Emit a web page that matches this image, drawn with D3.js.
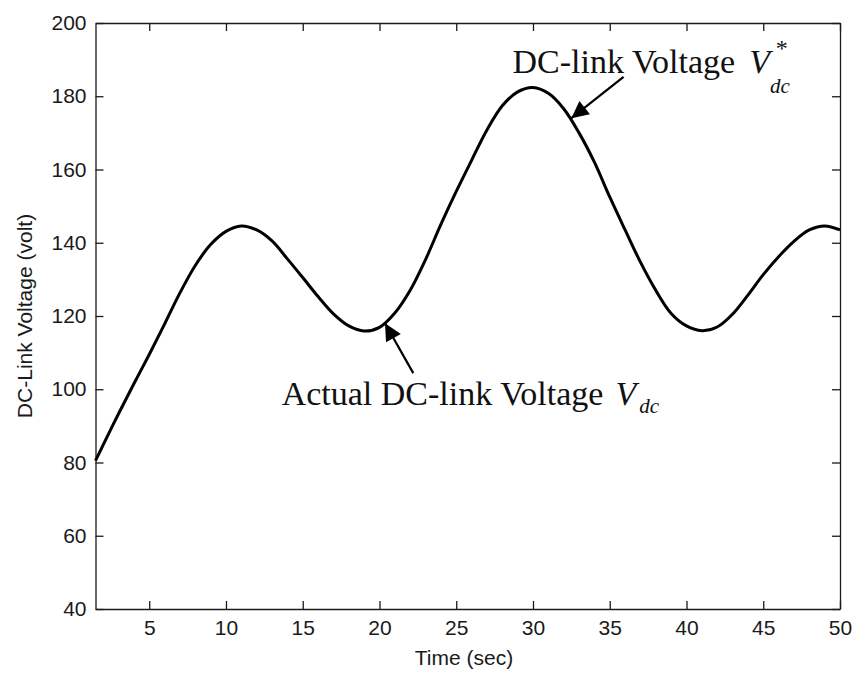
<!DOCTYPE html>
<html>
<head>
    <meta charset="utf-8">
    <title>DC-Link Voltage</title>
    <script src="https://d3js.org/d3.v7.min.js"></script>
    <style>
        body {
            margin: 0;
            padding: 0;
            background-color: #ffffff;
        }
        .axis text {
            font-family: "Liberation Sans", Arial, sans-serif;
            font-size: 21px;
            fill: #1a1a1a;
        }
        .axis path, .axis line {
            stroke: #1a1a1a;
            stroke-width: 1.3;
        }
        .label {
            font-family: "Liberation Sans", Arial, sans-serif;
            font-size: 21px;
            fill: #1a1a1a;
        }
        .note {
            font-family: "Liberation Serif", "Times New Roman", serif;
            font-size: 34px;
            fill: #111;
        }
    </style>
</head>
<body>
    <div id="chart"></div>

    <script>
        const timeSec = [1.5, 2, 3, 4, 5, 6, 7, 8, 9, 10, 11, 12, 13, 14, 15, 16, 17, 18, 19, 20,
                         21, 22, 23, 24, 25, 26, 27, 28, 29, 30, 31, 32, 33, 34, 35, 36, 37, 38, 39, 40,
                         41, 42, 43, 44, 45, 46, 47, 48, 49, 50];
        const voltage = [80.5, 84.8, 93.3, 101.5, 109.5, 117.8, 126.3, 133.8, 139.5, 143.1, 144.6, 143.5, 140.5, 135.6, 130.5, 125.3, 120.6, 117.3, 115.9, 116.9,
                         120.8, 127, 135.4, 145, 154, 162.5, 170.8, 177.4, 181.2, 182.4, 180.8, 176.6, 170, 162, 152.5, 143.5, 134.7, 127, 120.7, 117.3,
                         116, 117, 120.5, 125.7, 131.3, 136.2, 140.4, 143.5, 144.6, 143.5];

        const xTicks = [5, 10, 15, 20, 25, 30, 35, 40, 45, 50];
        const yTicks = [40, 60, 80, 100, 120, 140, 160, 180, 200];

        const data = timeSec.map((t, i) => ({ t: t, v: voltage[i] }));

        const W = 853, H = 675;
        const margin = { top: 23, right: 13, bottom: 66, left: 95.5 };
        const width = W - margin.left - margin.right;
        const height = H - margin.top - margin.bottom;

        const svg = d3.select("#chart")
            .append("svg")
            .attr("width", W)
            .attr("height", H);

        const g = svg.append("g")
            .attr("transform", `translate(${margin.left},${margin.top})`);

        const x = d3.scaleLinear().domain([1.5, 50]).range([0, width]);
        const y = d3.scaleLinear().domain([40, 200]).range([height, 0]);

        // axes, ticks pointing inwards on all four sides
        g.append("g")
            .attr("class", "axis")
            .attr("transform", `translate(0,${height})`)
            .call(d3.axisBottom(x).tickValues(xTicks).tickSizeInner(-8).tickSizeOuter(0).tickPadding(11));
        g.append("g")
            .attr("class", "axis")
            .call(d3.axisTop(x).tickValues(xTicks).tickSizeInner(-8).tickSizeOuter(0).tickFormat(""));
        g.append("g")
            .attr("class", "axis")
            .call(d3.axisLeft(y).tickValues(yTicks).tickSizeInner(-8).tickSizeOuter(0).tickPadding(9));
        g.append("g")
            .attr("class", "axis")
            .attr("transform", `translate(${width},0)`)
            .call(d3.axisRight(y).tickValues(yTicks).tickSizeInner(-8).tickSizeOuter(0).tickFormat(""));

        // the curve
        const line = d3.line()
            .x(d => x(d.t))
            .y(d => y(d.v))
            .curve(d3.curveCatmullRom);

        g.append("path")
            .datum(data)
            .attr("fill", "none")
            .attr("stroke", "#000")
            .attr("stroke-width", 3)
            .attr("stroke-linejoin", "round")
            .attr("d", line);

        // axis labels
        svg.append("text")
            .attr("class", "label")
            .attr("x", 464)
            .attr("y", 665)
            .attr("text-anchor", "middle")
            .text("Time (sec)");

        svg.append("text")
            .attr("class", "label")
            .attr("transform", "translate(32,316) rotate(-90)")
            .attr("text-anchor", "middle")
            .text("DC-Link Voltage (volt)");

        // arrows
        svg.append("defs").append("marker")
            .attr("id", "head")
            .attr("viewBox", "0 0 10 10")
            .attr("refX", 10)
            .attr("refY", 5)
            .attr("markerUnits", "userSpaceOnUse")
            .attr("markerWidth", 20)
            .attr("markerHeight", 17)
            .attr("orient", "auto")
            .append("path")
            .attr("d", "M0,0 L10,5 L0,10 Z")
            .attr("fill", "#000");

        function arrow(t0, v0, t1, v1) {
            g.append("line")
                .attr("x1", x(t0)).attr("y1", y(v0))
                .attr("x2", x(t1)).attr("y2", y(v1))
                .attr("stroke", "#000")
                .attr("stroke-width", 2.2)
                .attr("marker-end", "url(#head)");
        }
        arrow(35.9, 185.3, 32.5, 174.0);
        arrow(22.2, 104.4, 20.36, 118.0);

        // annotation texts
        const refNote = g.append("text")
            .attr("class", "note")
            .attr("x", x(28.67))
            .attr("y", y(186.3));
        refNote.append("tspan").text("DC-link Voltage");
        refNote.append("tspan").attr("font-style", "italic").attr("dx", 14).text("V");
        refNote.append("tspan").attr("font-style", "italic").attr("font-size", "21px")
            .attr("dx", 0).attr("dy", 20).text("dc");
        refNote.append("tspan").attr("font-size", "24px")
            .attr("dx", -14).attr("dy", -37).text("*");

        const actNote = g.append("text")
            .attr("class", "note")
            .attr("x", x(13.63))
            .attr("y", y(95.7));
        actNote.append("tspan").text("Actual DC-link Voltage");
        actNote.append("tspan").attr("font-style", "italic").attr("dx", 12).text("V");
        actNote.append("tspan").attr("font-style", "italic").attr("font-size", "21px")
            .attr("dx", 3).attr("dy", 8).text("dc");
    </script>
</body>
</html>
